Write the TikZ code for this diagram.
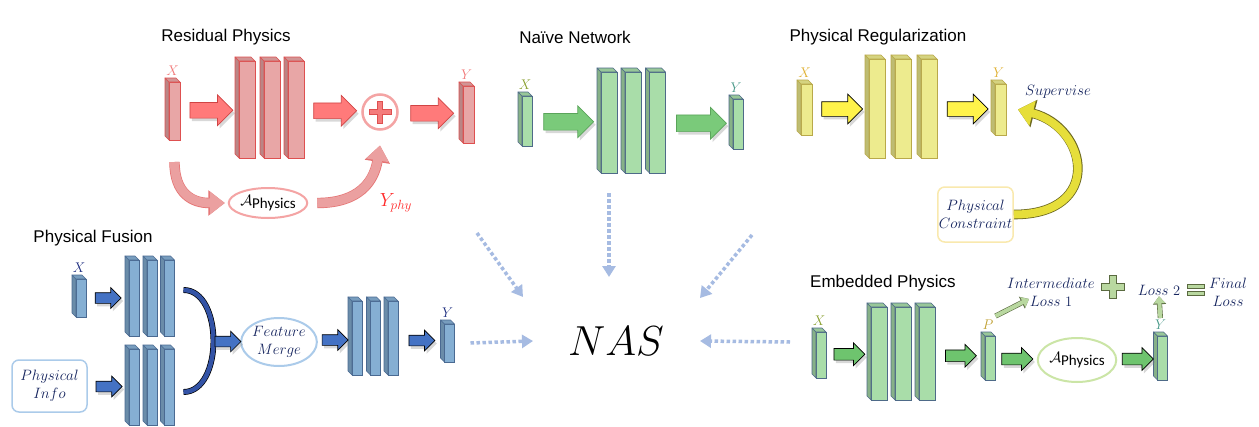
\documentclass[tikz,border=0pt]{standalone}
\usepackage{fontspec}
\setsansfont{Liberation Sans}
\newfontfamily\calibrifont{Carlito}
\usetikzlibrary{positioning, calc, shapes.geometric, shapes.arrows, arrows.meta, shadows}
% scalable math italic and symbols
\DeclareFontShape{OML}{cmm}{m}{it}{<-6>cmmi5<6-7>cmmi6<7-8>cmmi7<8-9>cmmi8<9-10>cmmi9<10-12>cmmi10<12->cmmi12}{}
\DeclareFontShape{OMS}{cmsy}{m}{n}{<-6>cmsy5<6-7>cmsy6<7-8>cmsy7<8-9>cmsy8<9-10>cmsy9<10->cmsy10}{}

\definecolor{resface}{HTML}{E8A6A6}
\definecolor{resedge}{HTML}{DE5050}
\definecolor{resarrow}{HTML}{FF7A7A}
\definecolor{resarrowedge}{HTML}{D04444}
\definecolor{resring}{HTML}{F4A4A4}
\definecolor{restext}{HTML}{F27A7A}
\definecolor{rescurvecol}{HTML}{EBA0A0}
\definecolor{resplus}{HTML}{F47C7C}
\definecolor{yphycol}{HTML}{FF2B2B}
\definecolor{naiface}{HTML}{A9DDA9}
\definecolor{naiedge}{HTML}{4E6A88}
\definecolor{naiarrow}{HTML}{7ACA7A}
\definecolor{naiarrowedge}{HTML}{5AA45A}
\definecolor{naix}{HTML}{8AA030}
\definecolor{naiy}{HTML}{4A9A8A}
\definecolor{regface}{HTML}{EDEB8E}
\definecolor{regedge}{HTML}{B9A94A}
\definecolor{regarrow}{HTML}{FFF34A}
\definecolor{regcurvecol}{HTML}{E6DE3A}
\definecolor{regcurveedge}{HTML}{6E6A20}
\definecolor{regring}{HTML}{F9E9AE}
\definecolor{regtext}{HTML}{E0B030}
\definecolor{fusface}{HTML}{85AFD3}
\definecolor{fusedge}{HTML}{4A6A92}
\definecolor{fusarrow}{HTML}{4472C4}
\definecolor{fusarc}{HTML}{3353A6}
\definecolor{fusring}{HTML}{ABCBEA}
\definecolor{fustext}{HTML}{1E2E80}
\definecolor{embarrow}{HTML}{6EC46E}
\definecolor{embring}{HTML}{CBE5A6}
\definecolor{embp}{HTML}{C0A030}
\definecolor{stripe}{HTML}{B9D8A0}
\definecolor{stripeedge}{HTML}{5A6A40}
\definecolor{navy}{HTML}{15245E}
\definecolor{nasdot}{HTML}{A6BBE2}

\tikzset{
  layerface/.style={rectangle, inner sep=0pt, outer sep=0pt, line width=0.6pt},
  title/.style={font=\sffamily\fontsize{17}{20}\selectfont},
  varlabel/.style={inner sep=0pt, font=\fontsize{14}{14}\selectfont},
  note/.style={text=navy, align=center, inner sep=1pt, font=\fontsize{15}{18}\selectfont},
  ring/.style={ellipse, inner sep=0pt, outer sep=0pt, line width=2pt},
  fatarrow/.style={single arrow, single arrow head indent=0pt, inner xsep=0pt, outer sep=0pt,
    line width=0.7pt, xshift=-2pt, drop shadow={opacity=0.3, shadow xshift=2pt, shadow yshift=-3pt}},
  resfat/.style={fatarrow, fill=resarrow, draw=resarrowedge, minimum height=43pt, inner ysep=7.5pt, single arrow head extend=7.5pt},
  naifat/.style={fatarrow, fill=naiarrow, draw=naiarrowedge, minimum height=50pt, inner ysep=8pt, single arrow head extend=7.5pt},
  regfat/.style={fatarrow, fill=regarrow, draw=black, minimum height=41pt, inner ysep=7pt, single arrow head extend=7.5pt},
  embfat/.style={fatarrow, fill=embarrow, draw=black, minimum height=31pt, inner ysep=5.5pt, single arrow head extend=5.5pt},
  fusfat/.style={fatarrow, fill=fusarrow, draw=black, minimum height=26pt, inner ysep=5pt, single arrow head extend=5pt},
  rescurve/.style={draw=rescurvecol, line width=9pt, -{Triangle[length=15pt, width=22pt]},
    preaction={draw=resedge!80, line width=10.4pt, -{Triangle[length=16.5pt, width=24.5pt]}}},
  regcurve/.style={draw=regcurvecol, line width=8pt, -{Triangle[length=15pt, width=25pt]},
    preaction={draw=regcurveedge, line width=9.6pt, -{Triangle[length=16.5pt, width=27.5pt]}}},
  fusarcline/.style={draw=black, line width=0.7pt, double=fusarc, double distance=4.5pt},
  stripearrow/.style={draw=stripe, line width=4pt, -{Triangle[length=7pt, width=11pt]},
    preaction={draw=stripeedge, line width=5.2pt, -{Triangle[length=8pt, width=12.8pt]}}},
  nasarrow/.style={draw=nasdot, line width=3.5pt, dash pattern=on 3.5pt off 2.5pt, -{Triangle[length=11pt, width=13pt]}}
}

% layer block: name, position, width, height, face colour, edge colour
\newcommand{\netlayer}[6]{%
  \node[layerface, fill=#5, draw=#6, minimum width=#3, minimum height=#4] (#1) at #2 {};
  \filldraw[fill=#5!80!black, draw=#6, line width=0.6pt, line join=round]
    (#1.north west) -- ++(-4pt,4pt) -- ++(0pt,-#4) -- (#1.south west) -- cycle;
  \filldraw[fill=#5!90!black, draw=#6, line width=0.6pt, line join=round]
    (#1.north west) -- ++(-4pt,4pt) -- ++(#3,0pt) -- (#1.north east) -- cycle;
}
% plus sign: centre, half arm, half bar, fill, edge
\newcommand{\plussign}[5]{%
  \filldraw[fill=#4, draw=#5, line width=0.8pt]
    #1 ++({-#3},{#2}) -- ++({2*#3},0pt) -- ++(0pt,{-(#2-#3)}) -- ++({#2-#3},0pt)
    -- ++(0pt,{-2*#3}) -- ++({-(#2-#3)},0pt) -- ++(0pt,{-(#2-#3)}) -- ++({-2*#3},0pt)
    -- ++(0pt,{#2-#3}) -- ++({-(#2-#3)},0pt) -- ++(0pt,{2*#3}) -- ++({#2-#3},0pt) -- cycle;
}
\newcommand{\aphys}{$\mathcal{A}$\raisebox{-0.35ex}{\calibrifont Physics}}

\begin{document}
\begin{tikzpicture}[x=1pt, y=-1pt]
    \fill[white] (0,0) rectangle (1259,426);
    \useasboundingbox (0,0) rectangle (1259,426);

    % Residual Physics
    \node[title] (restitle) at (226,37) {Residual Physics};
    \netlayer{rx}{(174.5,111)}{11pt}{58pt}{resface}{resedge}
    \netlayer{rl1}{(247,109.5)}{16pt}{97pt}{resface}{resedge}
    \netlayer{rl2}{(272,109.5)}{16pt}{97pt}{resface}{resedge}
    \netlayer{rl3}{(296,109.5)}{16pt}{97pt}{resface}{resedge}
    \netlayer{ry}{(468.5,114.5)}{11pt}{57pt}{resface}{resedge}
    \node[varlabel, text=restext, above=6pt of rx, xshift=-2pt] (rxl) {$X$};
    \node[varlabel, text=restext, above=6pt of ry, xshift=-2pt] (ryl) {$Y$};
    \node[circle, draw=resring, line width=2.5pt, minimum size=35pt, inner sep=0pt, outer sep=0pt] (plus) at (380,112) {};
    \plussign{(plus.center)}{11pt}{2.6pt}{resplus}{resedge}
    \node[ring, draw=resring, minimum width=64pt, minimum height=30pt, font=\fontsize{15}{15}\selectfont] (aphy) at (268,203) {\aphys};
    \node[varlabel, text=yphycol, font=\fontsize{19}{19}\selectfont] (yphy) at (396,203) {$Y_{phy}$};

    \node[resfat] (ra1) at ($(rx.east)!0.5!(rl1.west)$) {};
    \node[resfat] (ra2) at ($(rl3.east)!0.5!(plus.west)$) {};
    \node[resfat] (ra3) at ($(plus.east)!0.5!(ry.west)$) {};
    \draw[rescurve] ([yshift=-22pt]rx.south) .. controls +(0,32) and +(-32,0) .. ([xshift=-4pt]aphy.west);
    \draw[rescurve] ([xshift=10pt]aphy.east) .. controls +(42,0) and +(-6,36) .. ([yshift=-16pt]plus.south);

    % Naive Network
    \node[title] (naititle) at (575,37) {Naïve Network};
    \netlayer{nx}{(527,121)}{10pt}{50pt}{naiface}{naiedge}
    \netlayer{nl1}{(609,122.5)}{16pt}{101pt}{naiface}{naiedge}
    \netlayer{nl2}{(633,122.5)}{16pt}{101pt}{naiface}{naiedge}
    \netlayer{nl3}{(657.5,122.5)}{16pt}{101pt}{naiface}{naiedge}
    \netlayer{ny}{(738,124)}{10pt}{50pt}{naiface}{naiedge}
    \node[varlabel, text=naix, above=6pt of nx, xshift=-2pt] (nxl) {$X$};
    \node[varlabel, text=naiy, above=6pt of ny, xshift=-2pt] (nyl) {$Y$};
    \node[naifat] (na1) at ($(nx.east)!0.5!(nl1.west)$) {};
    \node[naifat] (na2) at ($(nl3.east)!0.5!(ny.west)$) {};

    % Physical Regularization
    \node[title] (regtitle) at (878,37) {Physical Regularization};
    \netlayer{gx}{(806.5,109.5)}{11pt}{51pt}{regface}{regedge}
    \netlayer{gl1}{(877,108.5)}{16pt}{99pt}{regface}{regedge}
    \netlayer{gl2}{(903,108.5)}{16pt}{99pt}{regface}{regedge}
    \netlayer{gl3}{(929,108.5)}{16pt}{99pt}{regface}{regedge}
    \netlayer{gy}{(1000.5,109.5)}{11pt}{51pt}{regface}{regedge}
    \node[varlabel, text=regtext, above=6pt of gx, xshift=-2pt] (gxl) {$X$};
    \node[varlabel, text=regtext, above=6pt of gy, xshift=-2pt] (gyl) {$Y$};
    \node[regfat] (ga1) at ($(gx.east)!0.5!(gl1.west)$) {};
    \node[regfat] (ga2) at ($(gl3.east)!0.5!(gy.west)$) {};
    \node[note] (superv) at (1058,92) {$Supervise$};
    \node[note, draw=regring, rounded corners=7pt, line width=1.5pt, minimum width=75pt, minimum height=55pt] (pcons) at (975.5,214.5) {$Physical$\\$Constraint$};
    \draw[regcurve] (pcons.east) .. controls +(90,0) and +(70,18) .. ([xshift=12pt]gy.east);

    % Physical Fusion
    \node[title] (fustitle) at (93,238) {Physical Fusion};
    \netlayer{fx}{(81,298)}{10pt}{38pt}{fusface}{fusedge}
    \netlayer{fu1}{(134,298)}{10pt}{76pt}{fusface}{fusedge}
    \netlayer{fu2}{(152,298)}{10pt}{76pt}{fusface}{fusedge}
    \netlayer{fu3}{(169.5,298)}{10pt}{76pt}{fusface}{fusedge}
    \netlayer{fd1}{(134,387)}{10pt}{76pt}{fusface}{fusedge}
    \netlayer{fd2}{(152,387)}{10pt}{76pt}{fusface}{fusedge}
    \netlayer{fd3}{(169.5,387)}{10pt}{76pt}{fusface}{fusedge}
    \netlayer{fm1}{(357,338)}{10pt}{74pt}{fusface}{fusedge}
    \netlayer{fm2}{(375.5,338)}{10pt}{74pt}{fusface}{fusedge}
    \netlayer{fm3}{(393,338)}{10pt}{74pt}{fusface}{fusedge}
    \netlayer{fy}{(449.5,343)}{10pt}{38pt}{fusface}{fusedge}
    \node[varlabel, text=fustext, above=6pt of fx, xshift=-2pt] (fxl) {$X$};
    \node[varlabel, text=fustext, above=6pt of fy, xshift=-2pt] (fyl) {$Y$};
    \node[note, draw=fusring, rounded corners=7pt, line width=1.5pt, minimum width=75pt, minimum height=52pt] (pinfo) at (49.5,386) {$Physical$\\$Info$};
    \node[note, ring, draw=fusring, minimum width=68pt, minimum height=48pt, font=\fontsize{15}{18}\selectfont] (merge) at (279,342) {$Feature$\\$Merge$};
    \draw[fusarcline] ([shift={(9pt,8pt)}]fu3.east) .. controls +(40,0) and +(40,0) .. ([shift={(9pt,-5pt)}]fd3.east) coordinate[pos=0.5] (arcmid);
    \node[fusfat] (fa1) at ($(fx.east)!0.5!(fu1.west)$) {};
    \node[fusfat] (fa2) at ($(pinfo.east)!0.5!(fd1.west)$) {};
    \node[fusfat] (fa3) at ($(arcmid)!0.5!(merge.west)$) {};
    \node[fusfat] (fa4) at ($(merge.east)!0.5!(fm1.west)$) {};
    \node[fusfat] (fa5) at ($(fm3.east)!0.5!(fy.west)$) {};

    % Embedded Physics
    \node[title] (embtitle) at (883,283) {Embedded Physics};
    \netlayer{ex}{(821,355)}{10pt}{46pt}{naiface}{naiedge}
    \netlayer{el1}{(879,353.5)}{16pt}{93pt}{naiface}{naiedge}
    \netlayer{el2}{(903,353.5)}{16pt}{93pt}{naiface}{naiedge}
    \netlayer{el3}{(927,353.5)}{16pt}{93pt}{naiface}{naiedge}
    \netlayer{ep}{(990,358)}{10pt}{44pt}{naiface}{naiedge}
    \netlayer{ey}{(1162.5,358)}{10pt}{44pt}{naiface}{naiedge}
    \node[varlabel, text=naix, above=6pt of ex, xshift=-2pt] (exl) {$X$};
    \node[varlabel, text=embp, above=6pt of ep, xshift=-2pt] (epl) {$P$};
    \node[varlabel, text=naiy, above=6pt of ey, xshift=-2pt] (eyl) {$Y$};
    \node[ring, draw=embring, minimum width=64pt, minimum height=44pt, font=\fontsize{15}{15}\selectfont] (aphy2) at (1077,360) {\aphys};
    \node[embfat] (ea1) at ($(ex.east)!0.5!(el1.west)$) {};
    \node[embfat] (ea2) at ($(el3.east)!0.5!(ep.west)$) {};
    \node[embfat] (ea3) at ($(ep.east)!0.5!(aphy2.west)$) {};
    \node[embfat] (ea4) at ($(aphy2.east)!0.5!(ey.west)$) {};
    \node[note] (imloss) at (1051,292) {$Intermediate$\\$Loss\ 1$};
    \node[note] (loss2) at (1159,290) {$Loss\ 2$};
    \node[note] (final) at (1228,292) {$Final$\\$Loss$};
    \coordinate (bigplus) at (1113,287);
    \plussign{(bigplus)}{11.5pt}{3.8pt}{stripe}{stripeedge}
    \filldraw[fill=stripe, draw=stripeedge, line width=0.6pt] (1187,284.5) rectangle (1204,288);
    \filldraw[fill=stripe, draw=stripeedge, line width=0.6pt] (1187,291.5) rectangle (1204,295);
    \draw[stripearrow] ([shift={(2pt,4pt)}]epl.north east) -- ([shift={(-22pt,-7pt)}]imloss.center);
    \draw[stripearrow, shorten <=2pt] (eyl.north) -- (loss2.south);

    % NAS
    \node[font=\fontsize{42}{42}\selectfont] (nas) at (616,341) {$NAS$};
    \coordinate (fromres) at (477,233);
    \coordinate (fromreg) at (752,235);
    \draw[nasarrow] (fromres) -- ([shift={(-93pt,44pt)}]nas.center);
    \draw[nasarrow] ([yshift=-20pt]nl1.south) -- ([shift={(-7pt,64pt)}]nas.center);
    \draw[nasarrow] (fromreg) -- ([shift={(84pt,43pt)}]nas.center);
    \draw[nasarrow] ([xshift=16pt]fy.east) -- ([xshift=-83pt]nas.center);
    \draw[nasarrow] ([shift={(-26pt,13pt)}]ex.west) -- ([xshift=84pt]nas.center);
\end{tikzpicture}
\end{document}
